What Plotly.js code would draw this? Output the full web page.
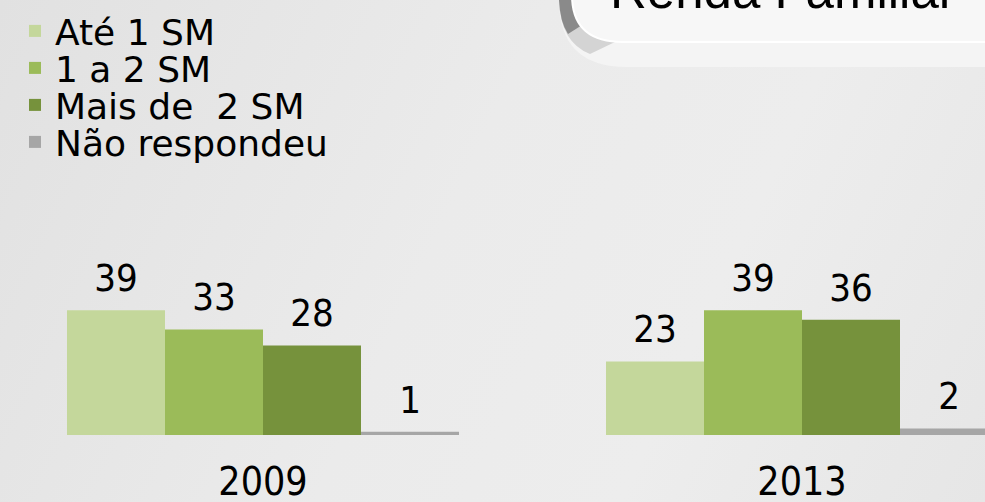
<!DOCTYPE html>
<html>
<head>
<meta charset="utf-8">
<script src="https://cdn.plot.ly/plotly-3.0.1.min.js"></script>
<style>
  html, body { margin:0; padding:0; width:985px; height:502px; overflow:hidden;
    background: linear-gradient(115deg, #e1e1e1 0%, #ebebeb 45%, #ededed 70%, #e6e6e6 100%); }
  #chart { width:985px; height:502px; }
</style>
</head>
<body>
<div id="chart"></div>
<script>
// ---- data ----
const years = ['2009', '2013'];
const seriesNames = ['Até 1 SM', '1 a 2 SM', 'Mais de  2 SM', 'Não respondeu'];
const ate1 = [39, 23];
const de1a2 = [33, 39];
const mais2 = [28, 36];
const naoResp = [1, 2];
const chartTitle = 'Renda Familiar';

// ---- style ----
const colors = ['#C4D79B', '#9BBB59', '#76923C', '#A6A6A6'];
const W = 985, H = 502, MB = 67, PH = H - MB;
const px = x => x / W;           // pixel -> paper x
const py = y => 1 - y / PH;      // pixel (from top) -> paper y
const valFont = {family: 'DejaVu Sans Condensed, DejaVu Sans', size: 38, color: '#000'};
const legFont = {family: 'DejaVu Sans', size: 36, color: '#000'};

const seriesVals = [ate1, de1a2, mais2, naoResp];
const legendIds = ['legend', 'legend2', 'legend3', 'legend4'];
const barTraces = seriesVals.map((vals, i) => ({
  type: 'bar', x: years, y: vals, name: seriesNames[i],
  marker: {color: colors[i], line: {width: 0}},
  hoverinfo: 'none', legend: legendIds[i], offsetgroup: String(i)
}));
// value labels, grouped like the bars
const labelTraces = seriesVals.map((vals, i) => ({
  type: 'scatter', mode: 'markers+text', x: years, y: vals, name: seriesNames[i],
  marker: {size: 14, color: 'rgba(0,0,0,0)'},
  text: vals.map(String), textposition: 'top center', textfont: valFont,
  cliponaxis: false, hoverinfo: 'none', showlegend: false, offsetgroup: String(i)
}));

const rowY = [31, 68, 105, 142];
const layout = {
  width: W, height: H,
  margin: {l: 0, r: 0, t: 0, b: MB},
  paper_bgcolor: 'rgba(0,0,0,0)', plot_bgcolor: 'rgba(0,0,0,0)',
  barmode: 'group', bargap: 0.2727, bargroupgap: 0,
  scattermode: 'group', scattergap: 0.2727,
  xaxis: {type: 'category', range: [-0.48794, 1.33952], showgrid: false, zeroline: false,
    showline: false, ticks: '', tickfont: {family: 'DejaVu Sans Condensed, DejaVu Sans', size: 39, color: '#000'},
    ticklabelstandoff: 20, fixedrange: true},
  yaxis: {visible: false, range: [0, PH / 3.2], fixedrange: true},
  showlegend: true,
  shapes: [
    // outer bevel
    {type: 'path', xref: 'paper', yref: 'paper', layer: 'above',
     path: `M${px(559)},${py(-30)} L${px(559)},${py(0)} Q${px(559)},${py(67)} ${px(627)},${py(67)} L${px(1000)},${py(67)} L${px(1000)},${py(-30)} Z`,
     fillcolor: '#f4f4f4', line: {width: 0}},
    // rim mid tone
    {type: 'path', xref: 'paper', yref: 'paper', layer: 'above',
     path: `M${px(559)},${py(-30)} L${px(559)},${py(0)} Q${px(560)},${py(42)} ${px(590)},${py(54)} L${px(615)},${py(42)} L${px(615)},${py(-30)} Z`,
     fillcolor: '#d4d4d4', line: {width: 0}},
    // rim dark
    {type: 'path', xref: 'paper', yref: 'paper', layer: 'above',
     path: `M${px(559)},${py(-30)} L${px(559)},${py(0)} Q${px(560)},${py(22)} ${px(568)},${py(34)} L${px(590)},${py(20)} L${px(590)},${py(-30)} Z`,
     fillcolor: '#8a8a8a', line: {width: 0}},
    // white panel
    {type: 'path', xref: 'paper', yref: 'paper', layer: 'above',
     path: `M${px(572)},${py(-30)} L${px(572)},${py(-5)} Q${px(572)},${py(42)} ${px(623)},${py(42)} L${px(1000)},${py(42)} L${px(1000)},${py(-30)} Z`,
     fillcolor: '#f7f7f7', line: {color: '#ffffff', width: 2}}
  ],
  annotations: [
    {text: chartTitle, xref: 'paper', yref: 'paper', x: px(783), y: py(-9), xanchor: 'center', yanchor: 'middle',
     showarrow: false, font: {family: 'Liberation Sans, Arial', size: 51, color: '#000'}}
  ]
};
legendIds.forEach((id, i) => {
  layout[id] = {x: px(15), y: py(rowY[i]), xanchor: 'left', yanchor: 'middle',
    bgcolor: 'rgba(0,0,0,0)', borderwidth: 0, font: legFont, orientation: 'v'};
});

Plotly.newPlot('chart', barTraces.concat(labelTraces), layout, {displayModeBar: false, staticPlot: true});
</script>
</body>
</html>
